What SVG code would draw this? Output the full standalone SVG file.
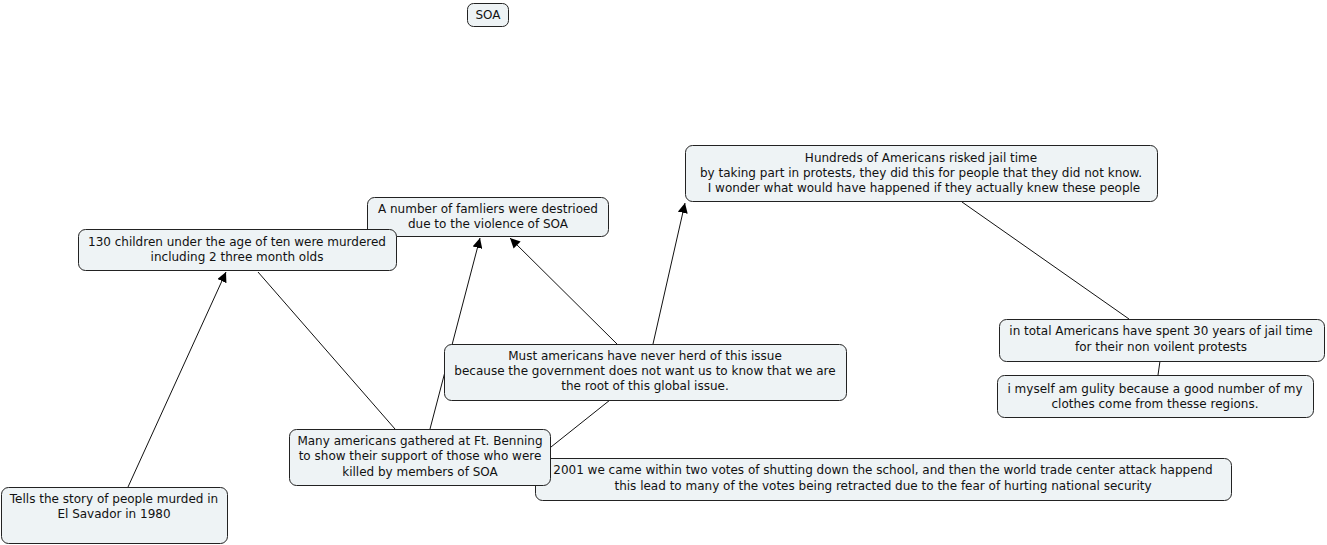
<svg xmlns="http://www.w3.org/2000/svg" width="1327" height="545" viewBox="0 0 1327 545">
<style>
.n rect{fill:#eef3f5;stroke:#222;stroke-width:1}
.n text{font-family:"DejaVu Sans",Verdana,sans-serif;font-size:12px;fill:#111;text-anchor:middle}
.c line{stroke:#111;stroke-width:1;fill:none}
.c .a{marker-end:url(#ah)}
</style>
<defs>
<marker id="ah" viewBox="0 0 10 10" refX="10" refY="5" markerWidth="10" markerHeight="10" markerUnits="userSpaceOnUse" orient="auto">
<path d="M0,0 L10,5 L0,10 z" fill="#000"/>
</marker>
</defs>
<rect width="1327" height="545" fill="#fff"/>
<g class="c">
<line class="a" x1="128" y1="487" x2="226" y2="272"/>
<line x1="258" y1="272" x2="395" y2="429"/>
<line class="a" x1="430" y1="429" x2="480" y2="238"/>
<line class="a" x1="617" y1="344" x2="510" y2="238"/>
<line class="a" x1="653" y1="344" x2="685" y2="203"/>
<line x1="962" y1="202" x2="1129" y2="319"/>
<line x1="1160" y1="361" x2="1158" y2="375"/>
<line x1="551" y1="447" x2="610" y2="400"/>
</g>
<g class="n" id="soa"><rect x="467.5" y="3.5" width="41" height="23" rx="6"/><text x="488" y="19">SOA</text></g>
<g class="n" id="families"><rect x="367.5" y="197.5" width="241" height="39" rx="7"/><text x="488" y="213">A number of famliers were destrioed</text><text x="488" y="228">due to the violence of SOA</text></g>
<g class="n" id="children"><rect x="78.5" y="229.5" width="318" height="41" rx="7"/><text x="237" y="246">130 children under the age of ten were murdered</text><text x="237" y="261">including 2 three month olds</text></g>
<g class="n" id="hundreds"><rect x="685.5" y="145.5" width="472" height="56" rx="7"/><text x="921" y="162">Hundreds of Americans risked jail time</text><text x="921" y="177">by taking part in protests, they did this for people that they did not know.</text><text x="924" y="192">I wonder what would have happened if they actually knew these people</text></g>
<g class="n" id="total"><rect x="999.5" y="319.5" width="325" height="42" rx="7"/><text x="1161" y="335">in total Americans have spent 30 years of jail time</text><text x="1161" y="351">for their non voilent protests</text></g>
<g class="n" id="myself"><rect x="997.5" y="375.5" width="316" height="42" rx="7"/><text x="1155" y="393">i myself am gulity because a good number of my</text><text x="1155" y="408">clothes come from thesse regions.</text></g>
<g class="n" id="must"><rect x="444.5" y="344.5" width="402" height="56" rx="7"/><text x="645" y="360">Must americans have never herd of this issue</text><text x="645" y="375">because the government does not want us to know that we are</text><text x="645" y="390">the root of this global issue.</text></g>
<g class="n" id="y2001"><rect x="535.5" y="458.5" width="696" height="42" rx="7"/><text x="883" y="474">2001 we came within two votes of shutting down the school, and then the world trade center attack happend</text><text x="883" y="490">this lead to many of the votes being retracted due to the fear of hurting national security</text></g>
<g class="n" id="many"><rect x="289.5" y="429.5" width="261" height="56" rx="7"/><text x="420" y="445">Many americans gathered at Ft. Benning</text><text x="420" y="460">to show their support of those who were</text><text x="420" y="476">killed by members of SOA</text></g>
<g class="n" id="tells"><rect x="1.5" y="487.5" width="226" height="56" rx="7"/><text x="114" y="503">Tells the story of people murded in</text><text x="114" y="518">El Savador in 1980</text></g>
</svg>
